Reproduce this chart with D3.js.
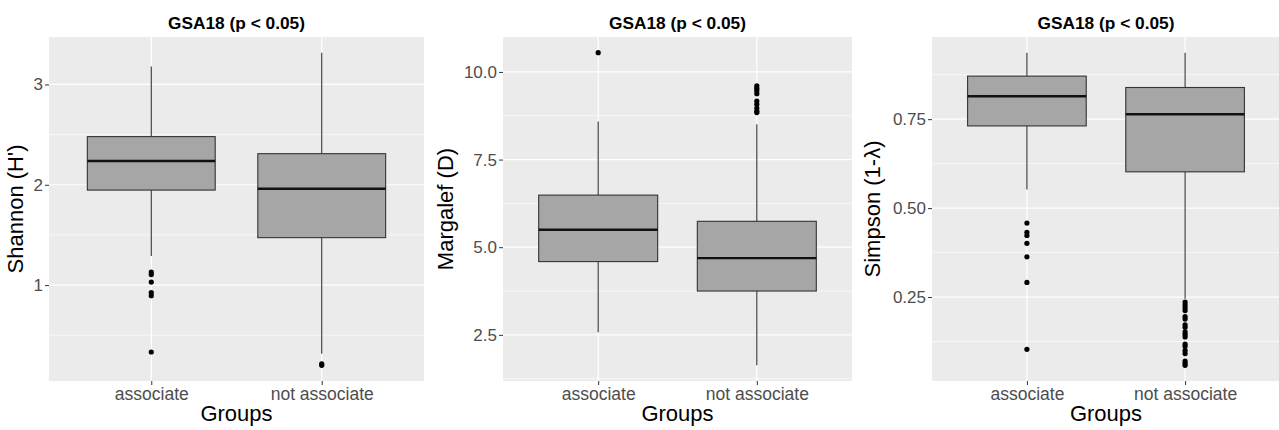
<!DOCTYPE html>
<html>
<head>
<meta charset="utf-8">
<script src="https://cdn.jsdelivr.net/npm/d3@7"></script>
<style>
    body { margin: 0; background: #fff; }
    svg text { font-family: "Liberation Sans", Arial, sans-serif; }
</style>
</head>
<body>
<div id="chart"></div>
<script>
// Groups on the x axis
const groups = ["associate", "not associate"];

// Box stats per group: [lower whisker, Q1, median, Q3, upper whisker]
const shannonBox = [[1.29, 1.947, 2.237, 2.48, 3.18], [0.317, 1.473, 1.96, 2.31, 3.317]];
const shannonOutliers = [[1.13, 1.105, 1.03, 0.925, 0.895, 0.333], [0.215, 0.200]];
const shannonTicks = [1, 2, 3];

const margalefBox = [[2.574, 4.59, 5.5, 6.486, 8.588], [1.63, 3.75, 4.69, 5.739, 8.51]];
const margalefOutliers = [[10.55], [9.60, 9.53, 9.46, 9.38, 9.17, 9.08, 8.97, 8.88, 8.84]];
const margalefTicks = [2.5, 5.0, 7.5, 10.0];

const simpsonBox = [[0.552, 0.731, 0.8145, 0.871, 0.937], [0.245, 0.602, 0.764, 0.839, 0.937]];
const simpsonOutliers = [
    [0.458, 0.432, 0.423, 0.401, 0.363, 0.291, 0.103],
    [0.236, 0.228, 0.220, 0.212, 0.195, 0.188, 0.172, 0.165, 0.152, 0.145, 0.138, 0.118, 0.112, 0.100, 0.091, 0.070, 0.064, 0.058]
];
const simpsonTicks = [0.25, 0.50, 0.75];

const plotTitle = "GSA18 (p < 0.05)";
const xTitle = "Groups";

const width = 1279;
const height = 430;
const panelTop = 37, panelBottom = 381;

const panels = [
    { box: shannonBox, out: shannonOutliers, ticks: shannonTicks, fmt: d3.format("d"), ylab: "Shannon (H')", left: 49, right: 424, ylabX: 23 },
    { box: margalefBox, out: margalefOutliers, ticks: margalefTicks, fmt: d3.format(".1f"), ylab: "Margalef (D)", left: 503, right: 852, ylabX: 453 },
    { box: simpsonBox, out: simpsonOutliers, ticks: simpsonTicks, fmt: d3.format(".2f"), ylab: "Simpson (1-λ)", left: 932, right: 1280, ylabX: 880 }
];

const svg = d3.select("#chart")
    .append("svg")
    .attr("width", width)
    .attr("height", height);

panels.forEach(function (p) {
    const g = svg.append("g");

    // ggplot style 5% expansion of the data range
    const all = p.box.flat().concat(p.out.flat());
    const lo = d3.min(all), hi = d3.max(all);
    const pad = (hi - lo) * 0.05;

    const y = d3.scaleLinear()
        .domain([lo - pad, hi + pad])
        .range([panelBottom, panelTop]);

    // discrete axis: 0.6 step of padding on each side
    const x = d3.scalePoint()
        .domain(groups)
        .range([p.left, p.right])
        .padding(0.6);

    const boxW = x.step() * 0.75;

    // panel background
    g.append("rect")
        .attr("x", p.left)
        .attr("y", panelTop)
        .attr("width", p.right - p.left)
        .attr("height", panelBottom - panelTop)
        .attr("fill", "#ebebeb");

    // minor grid: halfway between major ticks
    const tstep = p.ticks[1] - p.ticks[0];
    const minor = d3.range(p.ticks[0] - tstep / 2, p.ticks[p.ticks.length - 1] + tstep, tstep)
        .filter(v => v >= y.domain()[0] && v <= y.domain()[1]);

    g.selectAll(".minor")
        .data(minor)
        .enter().append("line")
        .attr("x1", p.left).attr("x2", p.right)
        .attr("y1", d => y(d)).attr("y2", d => y(d))
        .attr("stroke", "#fff")
        .attr("stroke-width", 0.6);

    g.selectAll(".major")
        .data(p.ticks)
        .enter().append("line")
        .attr("x1", p.left).attr("x2", p.right)
        .attr("y1", d => y(d)).attr("y2", d => y(d))
        .attr("stroke", "#fff")
        .attr("stroke-width", 1.2);

    g.selectAll(".vgrid")
        .data(groups)
        .enter().append("line")
        .attr("x1", d => x(d)).attr("x2", d => x(d))
        .attr("y1", panelTop).attr("y2", panelBottom)
        .attr("stroke", "#fff")
        .attr("stroke-width", 1.2);

    // axes
    const yAxis = d3.axisLeft(y)
        .tickValues(p.ticks)
        .tickFormat(p.fmt)
        .tickSize(4)
        .tickPadding(2);

    g.append("g")
        .attr("transform", `translate(${p.left},0)`)
        .call(yAxis)
        .call(a => a.select(".domain").remove())
        .call(a => a.selectAll("line").attr("stroke", "#333"))
        .call(a => a.selectAll("text").attr("fill", "#4d4d4d").style("font-size", "17px"));

    const xAxis = d3.axisBottom(x)
        .tickSize(4)
        .tickPadding(3);

    g.append("g")
        .attr("transform", `translate(0,${panelBottom})`)
        .call(xAxis)
        .call(a => a.select(".domain").remove())
        .call(a => a.selectAll("line").attr("stroke", "#333"))
        .call(a => a.selectAll("text").attr("fill", "#4d4d4d").style("font-size", "17.5px"));

    // boxes
    const boxes = g.selectAll(".box")
        .data(groups.map((grp, i) => ({ grp: grp, s: p.box[i], out: p.out[i] })))
        .enter().append("g");

    boxes.append("line")
        .attr("x1", d => x(d.grp)).attr("x2", d => x(d.grp))
        .attr("y1", d => y(d.s[3])).attr("y2", d => y(d.s[4]))
        .attr("stroke", "#333").attr("stroke-width", 1.1);

    boxes.append("line")
        .attr("x1", d => x(d.grp)).attr("x2", d => x(d.grp))
        .attr("y1", d => y(d.s[1])).attr("y2", d => y(d.s[0]))
        .attr("stroke", "#333").attr("stroke-width", 1.1);

    boxes.append("rect")
        .attr("x", d => x(d.grp) - boxW / 2)
        .attr("width", boxW)
        .attr("y", d => y(d.s[3]))
        .attr("height", d => y(d.s[1]) - y(d.s[3]))
        .attr("fill", "#a6a6a6")
        .attr("stroke", "#333")
        .attr("stroke-width", 1.1);

    boxes.append("line")
        .attr("x1", d => x(d.grp) - boxW / 2).attr("x2", d => x(d.grp) + boxW / 2)
        .attr("y1", d => y(d.s[2])).attr("y2", d => y(d.s[2]))
        .attr("stroke", "#111").attr("stroke-width", 2.4);

    boxes.each(function (d) {
        d3.select(this).selectAll("circle")
            .data(d.out)
            .enter().append("circle")
            .attr("cx", x(d.grp))
            .attr("cy", v => y(v))
            .attr("r", 2.6)
            .attr("fill", "#000");
    });

    // titles
    g.append("text")
        .attr("x", (p.left + p.right) / 2)
        .attr("y", 29)
        .attr("text-anchor", "middle")
        .style("font-size", "17.3px")
        .style("font-weight", "bold")
        .text(plotTitle);

    g.append("text")
        .attr("x", (p.left + p.right) / 2)
        .attr("y", 421)
        .attr("text-anchor", "middle")
        .style("font-size", "22px")
        .text(xTitle);

    g.append("text")
        .attr("transform", `translate(${p.ylabX},${(panelTop + panelBottom) / 2}) rotate(-90)`)
        .attr("text-anchor", "middle")
        .style("font-size", "22px")
        .text(p.ylab);
});
</script>
</body>
</html>
